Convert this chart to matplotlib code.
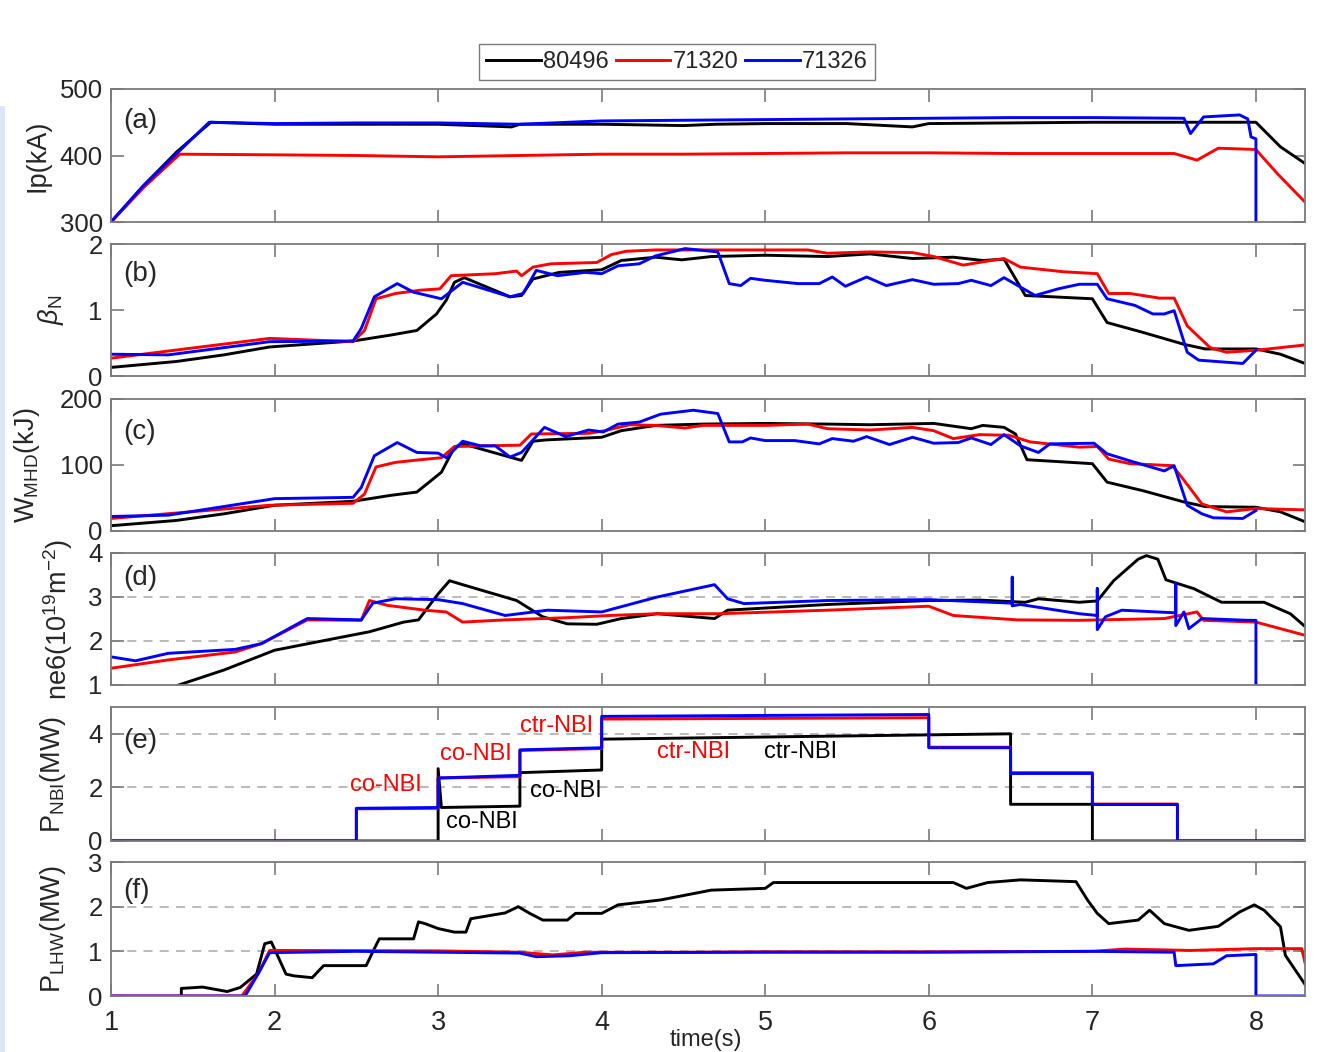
import numpy as np
import matplotlib.pyplot as plt
from matplotlib.patches import Rectangle

plt.rcParams['font.family'] = ['Liberation Sans', 'DejaVu Sans']
plt.rcParams['mathtext.fontset'] = 'custom'
plt.rcParams['mathtext.rm'] = 'Liberation Sans'
plt.rcParams['mathtext.it'] = 'Liberation Sans:italic'

shots = ["80496", "71320", "71326"]
colors = ["black", "#ff0000", "#0000ff"]

# ---- (a) plasma current, kA ----
ip_t_k = [1.0, 1.2, 1.4, 1.61, 2.0, 3.0, 3.45, 3.5, 4.0, 4.5, 4.7, 5.0, 5.5, 5.9, 6.0, 6.5, 7.0, 7.5, 8.0, 8.15, 8.3]
ip_k = [300, 355, 405, 450, 447, 447, 443, 447, 447, 445, 447, 448, 448, 443, 448, 449, 450, 450, 450, 413, 388]
ip_t_r = [1.0, 1.2, 1.42, 2.0, 2.5, 3.0, 3.5, 4.0, 4.5, 5.0, 5.5, 6.0, 6.5, 7.0, 7.5, 7.64, 7.77, 8.0, 8.13, 8.3]
ip_r = [300, 352, 402, 401, 400, 398, 400, 402, 402, 403, 404, 404, 403, 403, 403, 393, 411, 409, 373, 330]
ip_t_b = [1.0, 1.2, 1.6, 2.0, 2.5, 3.0, 3.5, 4.0, 4.5, 5.0, 5.5, 6.0, 6.5, 7.0, 7.56, 7.6, 7.68, 7.9, 7.95, 7.97, 8.0, 8.0]
ip_b = [300, 355, 450, 448, 449, 449, 447, 452, 453, 454, 455, 456, 457, 457, 456, 433, 458, 461, 455, 428, 425, 300]

# ---- (b) beta_N ----
bn_t_k = [1.0, 1.4, 1.69, 1.97, 2.48, 2.71, 2.87, 2.99, 3.05, 3.1, 3.16, 3.44, 3.51, 3.58, 3.74, 4.0, 4.12, 4.33,
          4.49, 4.67, 5.0, 5.38, 5.64, 5.9, 6.15, 6.33, 6.46, 6.59, 7.0, 7.09, 7.31, 7.56, 7.69, 8.0, 8.15, 8.3]
bn_k = [0.13, 0.22, 0.32, 0.44, 0.53, 0.62, 0.69, 0.94, 1.15, 1.42, 1.49, 1.20, 1.22, 1.47, 1.57, 1.61, 1.75, 1.80,
        1.76, 1.81, 1.83, 1.81, 1.85, 1.78, 1.80, 1.75, 1.77, 1.22, 1.17, 0.81, 0.66, 0.48, 0.41, 0.41, 0.33, 0.19]
bn_t_r = [1.0, 1.97, 2.48, 2.55, 2.62, 2.74, 2.89, 3.01, 3.08, 3.35, 3.48, 3.51, 3.58, 3.69, 3.97, 4.06, 4.15, 4.33,
          4.62, 5.0, 5.26, 5.38, 5.64, 5.9, 6.03, 6.21, 6.38, 6.46, 6.56, 6.82, 7.03, 7.1, 7.23, 7.41, 7.5, 7.58,
          7.72, 7.82, 8.0, 8.15, 8.3]
bn_r = [0.27, 0.57, 0.52, 0.69, 1.17, 1.25, 1.30, 1.32, 1.52, 1.55, 1.59, 1.52, 1.65, 1.70, 1.72, 1.84, 1.89, 1.91,
        1.91, 1.91, 1.91, 1.86, 1.88, 1.87, 1.81, 1.68, 1.75, 1.78, 1.65, 1.58, 1.55, 1.25, 1.25, 1.18, 1.18, 0.76,
        0.43, 0.36, 0.39, 0.43, 0.47]
bn_t_b = [1.0, 1.35, 1.97, 2.48, 2.53, 2.61, 2.75, 2.85, 3.02, 3.15, 3.44, 3.52, 3.6, 3.73, 3.9, 4.0, 4.1, 4.23, 4.33,
          4.51, 4.71, 4.78, 4.85, 4.91, 5.0, 5.2, 5.33, 5.41, 5.49, 5.62, 5.74, 5.9, 6.03, 6.18, 6.26, 6.38, 6.46,
          6.65, 6.79, 6.92, 7.03, 7.09, 7.26, 7.37, 7.44, 7.5, 7.58, 7.65, 7.92, 8.0]
bn_b = [0.33, 0.32, 0.52, 0.53, 0.72, 1.20, 1.40, 1.27, 1.17, 1.42, 1.20, 1.25, 1.60, 1.52, 1.57, 1.55, 1.67, 1.70, 1.82,
        1.93, 1.88, 1.40, 1.37, 1.48, 1.45, 1.40, 1.40, 1.50, 1.36, 1.50, 1.37, 1.46, 1.39, 1.40, 1.45, 1.37, 1.49,
        1.22, 1.32, 1.39, 1.39, 1.17, 1.07, 0.94, 0.94, 0.99, 0.36, 0.24, 0.19, 0.39]

# ---- (c) stored energy, kJ ----
w_t_k = [1.0, 1.4, 1.69, 2.0, 2.48, 2.71, 2.87, 3.02, 3.1, 3.15, 3.51, 3.58, 3.66, 4.0, 4.12, 4.33, 4.62, 5.0,
         5.38, 5.64, 6.03, 6.26, 6.33, 6.46, 6.53, 6.6, 7.0, 7.09, 7.31, 7.56, 7.69, 8.0, 8.15, 8.3]
w_k = [8, 16, 26, 39, 45, 54, 59, 89, 127, 132, 107, 136, 138, 142, 152, 160, 162, 163,
       162, 161, 163, 155, 160, 157, 147, 108, 102, 74, 61, 44, 37, 36, 29, 14]
w_t_r = [1.0, 1.97, 2.48, 2.55, 2.62, 2.74, 2.89, 3.02, 3.1, 3.28, 3.5, 3.57, 3.92, 4.02, 4.17, 4.33, 4.51, 4.62,
         5.0, 5.26, 5.38, 5.64, 5.9, 6.03, 6.15, 6.31, 6.49, 6.62, 6.92, 7.03, 7.1, 7.23, 7.49, 7.56, 7.67, 7.82,
         8.0, 8.3]
w_r = [19, 39, 42, 56, 97, 104, 108, 111, 128, 129, 130, 147, 148, 152, 161, 160, 156, 160,
       160, 162, 155, 153, 157, 152, 140, 146, 145, 135, 127, 128, 109, 102, 99, 77, 41, 29,
       34, 32]
w_t_b = [1.0, 1.35, 2.0, 2.48, 2.53, 2.61, 2.75, 2.87, 3.0, 3.05, 3.15, 3.26, 3.35, 3.44, 3.51, 3.65, 3.78, 3.92,
         4.01, 4.1, 4.23, 4.36, 4.56, 4.71, 4.78, 4.86, 4.91, 5.0, 5.18, 5.33, 5.41, 5.54, 5.62, 5.76, 5.9, 6.03,
         6.18, 6.26, 6.38, 6.46, 6.56, 6.67, 6.74, 7.01, 7.09, 7.26, 7.44, 7.5, 7.58, 7.67, 7.74, 7.92, 8.0]
w_b = [22, 24, 49, 51, 66, 114, 134, 119, 118, 111, 136, 129, 129, 112, 119, 157, 143, 153,
       150, 162, 165, 177, 183, 178, 135, 135, 141, 137, 137, 132, 140, 136, 143, 131, 142, 133,
       134, 141, 131, 146, 129, 119, 132, 133, 117, 104, 91, 99, 39, 26, 20, 19, 31]

# ---- (d) line-integrated density, 1e19 m^-2 ----
ne_t_k = [1.40, 1.43, 1.69, 2.0, 2.33, 2.58, 2.79, 2.88, 3.0, 3.07, 3.15, 3.48, 3.64, 3.79, 3.97, 4.12, 4.34,
          4.69, 4.77, 5.38, 6.0, 6.31, 6.59, 6.67, 6.92, 7.03, 7.13, 7.28, 7.33, 7.4, 7.45, 7.62, 7.79, 8.05,
          8.21, 8.3]
ne_k = [0.98, 1.02, 1.34, 1.79, 2.03, 2.21, 2.43, 2.48, 3.07, 3.37, 3.28, 2.92, 2.55, 2.39, 2.38, 2.51, 2.62,
        2.51, 2.70, 2.83, 2.92, 2.93, 2.88, 2.96, 2.88, 2.91, 3.37, 3.86, 3.94, 3.86, 3.39, 3.19, 2.88, 2.88,
        2.62, 2.33]
ne_t_r = [1.0, 1.35, 1.76, 1.92, 2.2, 2.53, 2.58, 2.69, 2.92, 3.05, 3.15, 3.41, 3.79, 4.05, 4.34, 4.72, 5.38,
          6.0, 6.15, 6.54, 6.92, 7.44, 7.64, 7.68, 8.0, 8.3]
ne_r = [1.38, 1.57, 1.75, 1.94, 2.48, 2.47, 2.92, 2.81, 2.70, 2.66, 2.43, 2.48, 2.53, 2.58, 2.62, 2.62, 2.70,
        2.79, 2.58, 2.48, 2.47, 2.51, 2.66, 2.47, 2.43, 2.13]
ne_t_b = [1.0, 1.15, 1.35, 1.76, 1.92, 2.2, 2.53, 2.6, 2.74, 3.0, 3.15, 3.41, 3.67, 4.0, 4.34, 4.69, 4.77, 4.87,
          5.38, 6.0, 6.51, 6.51, 6.51, 6.56, 6.92, 7.03, 7.03, 7.03, 7.08, 7.18, 7.51, 7.51, 7.51, 7.56, 7.59,
          7.67, 7.95, 8.0, 8.0]
ne_b = [1.64, 1.55, 1.72, 1.81, 1.94, 2.51, 2.48, 2.86, 2.96, 2.94, 2.85, 2.58, 2.70, 2.66, 3.00, 3.28, 2.96, 2.85,
        2.92, 2.94, 2.86, 3.45, 2.80, 2.83, 2.62, 2.58, 3.19, 2.26, 2.55, 2.70, 2.64, 3.30, 2.35, 2.66, 2.28,
        2.51, 2.47, 2.47, 1.0]

# ---- (e) NBI power, MW ----
nbi_t_k = [1.0, 3.0, 3.0, 3.02, 3.5, 3.5, 4.0, 4.0, 6.5, 6.5, 7.0, 7.0, 8.3]
nbi_k = [0.0, 0.0, 2.7, 1.25, 1.3, 2.55, 2.65, 3.8, 4.0, 1.37, 1.37, 0.0, 0.0]
nbi_t_r = [1.0, 2.5, 2.5, 3.0, 3.0, 3.5, 3.5, 4.0, 4.0, 6.0, 6.0, 6.5, 6.5, 7.0, 7.0, 7.52, 7.52, 8.3]
nbi_r = [0.0, 0.0, 1.2, 1.22, 2.35, 2.4, 3.38, 3.45, 4.55, 4.6, 3.5, 3.5, 2.55, 2.55, 1.38, 1.38, 0.0, 0.0]
nbi_t_b = [1.0, 2.5, 2.5, 3.0, 3.0, 3.5, 3.5, 4.0, 4.0, 6.0, 6.0, 6.5, 6.5, 7.0, 7.0, 7.52, 7.52, 8.3]
nbi_b = [0.0, 0.0, 1.22, 1.25, 2.35, 2.45, 3.4, 3.48, 4.65, 4.72, 3.48, 3.48, 2.52, 2.52, 1.36, 1.36, 0.0, 0.0]

# ---- (f) LHW power, MW ----
lh_t_k = [1.43, 1.43, 1.56, 1.71, 1.79, 1.89, 1.94, 1.98, 2.07, 2.12, 2.23, 2.3, 2.56, 2.61, 2.64, 2.85, 2.88,
          2.92, 3.0, 3.1, 3.17, 3.2, 3.41, 3.49, 3.56, 3.64, 3.79, 3.84, 4.0, 4.1, 4.36, 4.67, 5.0, 5.05, 5.64,
          6.15, 6.23, 6.36, 6.56, 6.9, 6.97, 7.03, 7.1, 7.28, 7.35, 7.44, 7.59, 7.77, 7.9, 7.99, 8.05, 8.15, 8.18,
          8.3]
lh_k = [0.0, 0.17, 0.20, 0.10, 0.19, 0.49, 1.17, 1.21, 0.49, 0.45, 0.41, 0.68, 0.68, 1.06, 1.28, 1.28, 1.66,
        1.62, 1.51, 1.43, 1.43, 1.73, 1.86, 2.0, 1.85, 1.70, 1.70, 1.85, 1.85, 2.04, 2.15, 2.37, 2.41, 2.54, 2.54,
        2.54, 2.41, 2.54, 2.60, 2.56, 2.15, 1.85, 1.62, 1.70, 1.92, 1.62, 1.47, 1.56, 1.88, 2.04, 1.92, 1.55, 0.91,
        0.26]
lh_t_r = [1.0, 1.8, 1.9, 1.97, 3.0, 3.5, 3.7, 3.9, 4.5, 5.0, 6.0, 7.0, 7.2, 7.6, 8.0, 8.28, 8.3]
lh_r = [0.0, 0.0, 0.5, 1.02, 1.01, 0.98, 0.92, 0.98, 0.98, 0.99, 0.99, 1.0, 1.05, 1.02, 1.06, 1.06, 0.75]
lh_t_b = [1.0, 1.82, 1.9, 1.97, 2.5, 3.0, 3.5, 3.6, 3.8, 4.0, 5.0, 6.0, 7.0, 7.5, 7.51, 7.74, 7.82, 8.0, 8.0, 8.3]
lh_b = [0.0, 0.0, 0.5, 0.97, 1.0, 0.98, 0.96, 0.88, 0.9, 0.97, 0.98, 0.98, 1.0, 0.98, 0.68, 0.72, 0.90, 0.93, 0.0, 0.0]

series = [
    ([ip_t_k, ip_t_r, ip_t_b], [ip_k, ip_r, ip_b]),
    ([bn_t_k, bn_t_r, bn_t_b], [bn_k, bn_r, bn_b]),
    ([w_t_k, w_t_r, w_t_b], [w_k, w_r, w_b]),
    ([ne_t_k, ne_t_r, ne_t_b], [ne_k, ne_r, ne_b]),
    ([nbi_t_k, nbi_t_r, nbi_t_b], [nbi_k, nbi_r, nbi_b]),
    ([lh_t_k, lh_t_r, lh_t_b], [lh_k, lh_r, lh_b]),
]
ylabels = ["Ip(kA)", r"$\beta_{\rm N}$", r"W$_{\rm MHD}$(kJ)", r"ne6(10$^{19}$m$^{-2}$)",
           r"P$_{\rm NBI}$(MW)", r"P$_{\rm LHW}$(MW)"]
ylims = [(300, 500), (0, 2), (0, 200), (1, 4), (0, 5), (0, 3)]
yticks = [[300, 400, 500], [0, 1, 2], [0, 100, 200], [1, 2, 3, 4], [0, 2, 4], [0, 1, 2, 3]]
dashed = [[], [], [], [2, 3], [2, 4], [1, 2]]
tags = ["(a)", "(b)", "(c)", "(d)", "(e)", "(f)"]

# axes boxes in pixels (top, bottom) and label positions
W, H = 1318, 1052
boxes = [(89, 222), (244, 376), (399, 531), (553, 685), (707, 841), (862, 996)]
label_x = [-0.051, -0.038, -0.058, -0.030, -0.036, -0.036]
tag_y = [0.76, 0.77, 0.75, 0.81, 0.75, 0.78]

fig = plt.figure(figsize=(W / 100, H / 100), dpi=100)
fig.add_artist(Rectangle((0, 0), 5 / W, 1 - 106 / H, transform=fig.transFigure,
                         color="#dbe5f4", lw=0))

spine_c = "#7a7a7a"
text_c = "#262626"
axes = []
for i, (top, bot) in enumerate(boxes):
    ax = fig.add_axes([111 / W, 1 - bot / H, 1194 / W, (bot - top) / H])
    axes.append(ax)
    for y in dashed[i]:
        ax.axhline(y, color="#b4b4b4", lw=1.3, ls=(0, (5, 4)), zorder=0)
    ts, ys = series[i]
    for t, y, c in zip(ts, ys, colors):
        ax.plot(t, y, color=c, lw=2.1)
    ax.set_xlim(1, 8.3)
    ax.set_ylim(*ylims[i])
    ax.set_yticks(yticks[i])
    ax.set_xticks(range(1, 9))
    ax.tick_params(direction="in", top=True, right=True, length=9, width=1.2,
                   color=spine_c, labelcolor=text_c)
    ax.tick_params(axis="y", labelsize=18.5, pad=6)
    ax.tick_params(axis="x", labelsize=19.5, pad=10)
    if i < 5:
        ax.set_xticklabels([])
    for s in ax.spines.values():
        s.set_color(spine_c)
        s.set_linewidth(1.3)
    ax.set_ylabel(ylabels[i], fontsize=19.5, color=text_c)
    ax.yaxis.set_label_coords(label_x[i], 0.5)
    ax.text(0.01, tag_y[i], tags[i], transform=ax.transAxes, fontsize=20,
            color=text_c, va="center", ha="left")

# NBI source annotations
ax = axes[4]
ax.text(2.46, 2.09, "co-NBI", color="#ff0000", fontsize=17, va="center")
ax.text(3.01, 3.25, "co-NBI", color="#ff0000", fontsize=17, va="center")
ax.text(3.50, 4.30, "ctr-NBI", color="#ff0000", fontsize=17, va="center")
ax.text(4.34, 3.33, "ctr-NBI", color="#ff0000", fontsize=17, va="center")
ax.text(4.99, 3.33, "ctr-NBI", color="black", fontsize=17, va="center")
ax.text(3.56, 1.87, "co-NBI", color="black", fontsize=17, va="center")
ax.text(3.05, 0.71, "co-NBI", color="black", fontsize=17, va="center")

handles = [plt.Line2D([], [], color=c, lw=2.1) for c in colors]
leg = fig.legend(handles, shots, loc="center", bbox_to_anchor=(677 / W, 1 - 62 / H), ncol=3,
                 fontsize=17, handlelength=2.3, handletextpad=0.1, columnspacing=0.3,
                 borderpad=0.3, fancybox=False, framealpha=1, edgecolor=spine_c)
for txt in leg.get_texts():
    txt.set_color(text_c)

fig.text(706 / W, 0.001, "time(s)", fontsize=17, color=text_c, ha="center", va="bottom")

plt.savefig("out.png", dpi=100)
